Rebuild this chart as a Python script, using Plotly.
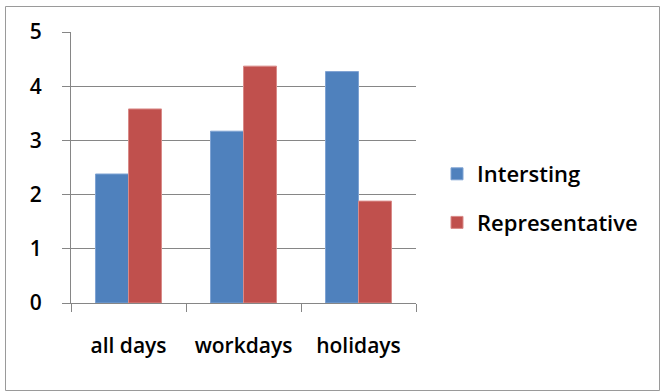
import plotly.graph_objects as go

categories = ["all days", "workdays", "holidays"]
intersting = [2.38, 3.17, 4.27]
representative = [3.58, 4.37, 1.88]
series_names = ["Intersting", "Representative"]
y_ticks = [0, 1, 2, 3, 4, 5]

W, H = 661, 392
L, R, T, B = 71, 416, 32, 303

font_family = "Open Sans"
FS = 21
LFS = 22

fig = go.Figure()
fig.add_trace(go.Bar(x=categories, y=intersting, name=series_names[0],
                     marker=dict(color="#4F81BD", line=dict(color="#7FA3D3", width=1)),
                     legendgroup="a"))
fig.add_trace(go.Bar(x=categories, y=representative, name=series_names[1],
                     marker=dict(color="#C0504D", line=dict(color="#D98A88", width=1)),
                     legendgroup="b"))

pw = R - L
ph = B - T
def px_x(x):
    return (x - L) / pw
def px_y(y):
    return (B - y) / ph

fig.add_shape(type="rect", xref="paper", yref="paper",
              x0=px_x(5.5), x1=px_x(659.5), y0=px_y(390.5), y1=px_y(6.5),
              line=dict(color="#9A9A9A", width=1), layer="below")

fig.update_layout(
    width=W, height=H,
    margin=dict(l=L, r=W - R, t=T, b=H - B, pad=0, autoexpand=False),
    paper_bgcolor="white", plot_bgcolor="white",
    barmode="group", bargap=0.426, bargroupgap=0,
    font=dict(family=font_family, size=FS, color="black", weight=600),
    showlegend=True,
    legend=dict(x=px_x(437), y=px_y(153), xanchor="left", yanchor="top",
                traceorder="grouped", tracegroupgap=17,
                font=dict(size=LFS, weight=600), itemwidth=30, bgcolor="rgba(0,0,0,0)"),
    xaxis=dict(showline=True, linecolor="#868686", linewidth=1,
               ticks="outside", ticklen=8, tickcolor="#868686",
               tickson="boundaries", showgrid=False, tickangle=0, automargin=False,
               tickfont=dict(size=FS, weight=600), ticklabelstandoff=24),
    yaxis=dict(range=[0, 5], tickvals=y_ticks, showline=True, linecolor="#868686",
               linewidth=1, ticks="outside", ticklen=8, tickcolor="#868686",
               showgrid=True, gridcolor="#868686", gridwidth=1, automargin=False,
               tickfont=dict(size=FS, weight=600), ticklabelstandoff=16, zeroline=False),
)

fig.write_html("out.html")
